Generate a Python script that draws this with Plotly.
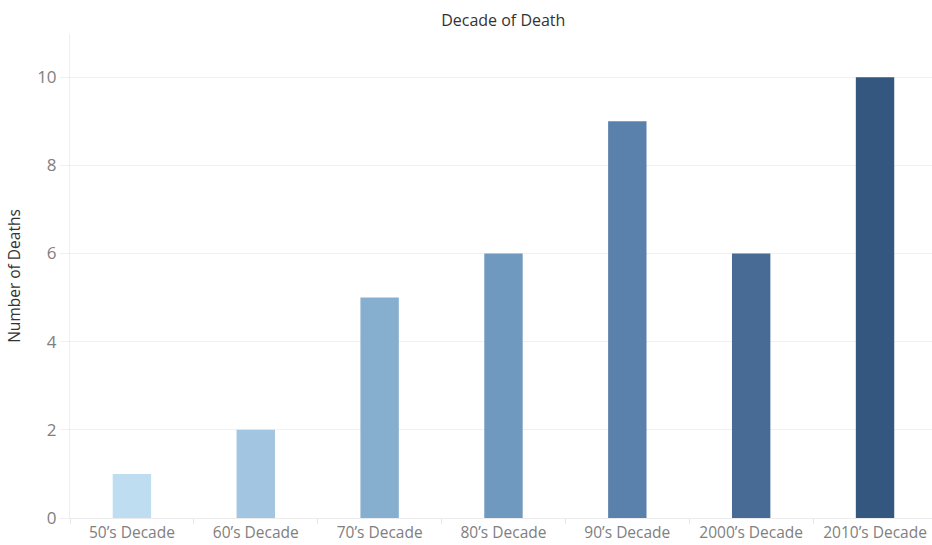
import plotly.graph_objects as go

# Deaths per decade
decades = ["50’s Decade", "60’s Decade", "70’s Decade", "80’s Decade",
           "90’s Decade", "2000’s Decade", "2010’s Decade"]
deaths = [1, 2, 5, 6, 9, 6, 10]
bar_colors = ["#BFDDF1", "#A2C6E1", "#86AFCF", "#6F99BF",
              "#5A80AC", "#476B94", "#34577F"]

fig = go.Figure(
    go.Bar(
        x=decades,
        y=deaths,
        marker=dict(color=bar_colors, line=dict(width=0)),
        width=0.31,
        hovertemplate="%{x}: %{y}<extra></extra>",
    )
)

fig.update_layout(
    width=932,
    height=545,
    margin=dict(l=70, r=0, t=34, b=27),
    paper_bgcolor="white",
    plot_bgcolor="white",
    showlegend=False,
    font=dict(family="Open Sans, sans-serif", color="#808080"),
    title=dict(
        text="Decade of Death",
        x=0.540, xanchor="center",
        y=0.962, yanchor="middle",
        font=dict(size=16, color="#333333", family="Open Sans, sans-serif"),
    ),
)

fig.update_xaxes(
    range=[-0.5, 6.46],
    showgrid=False,
    tickson="boundaries",
    ticks="outside",
    ticklen=5,
    tickcolor="#E6E6E6",
    tickfont=dict(size=15.5, color="#808080"),
    ticklabelstandoff=0,
    showline=True,
    linecolor="#ECECEC",
    automargin=False,
    fixedrange=True,
)

fig.update_yaxes(
    range=[0, 10.98],
    tickvals=[0, 2, 4, 6, 8, 10],
    showgrid=True,
    gridcolor="#F0F0F0",
    gridwidth=1,
    zeroline=False,
    showline=True,
    linecolor="#EEEEEE",
    ticks="outside",
    ticklen=9,
    tickcolor="#F0F0F0",
    tickfont=dict(size=17, color="#808080"),
    title=dict(text="Number of Deaths", standoff=12,
               font=dict(size=15.5, color="#333333", family="Open Sans, sans-serif")),
    automargin=False,
    fixedrange=True,
)

fig.write_html("out.html")
